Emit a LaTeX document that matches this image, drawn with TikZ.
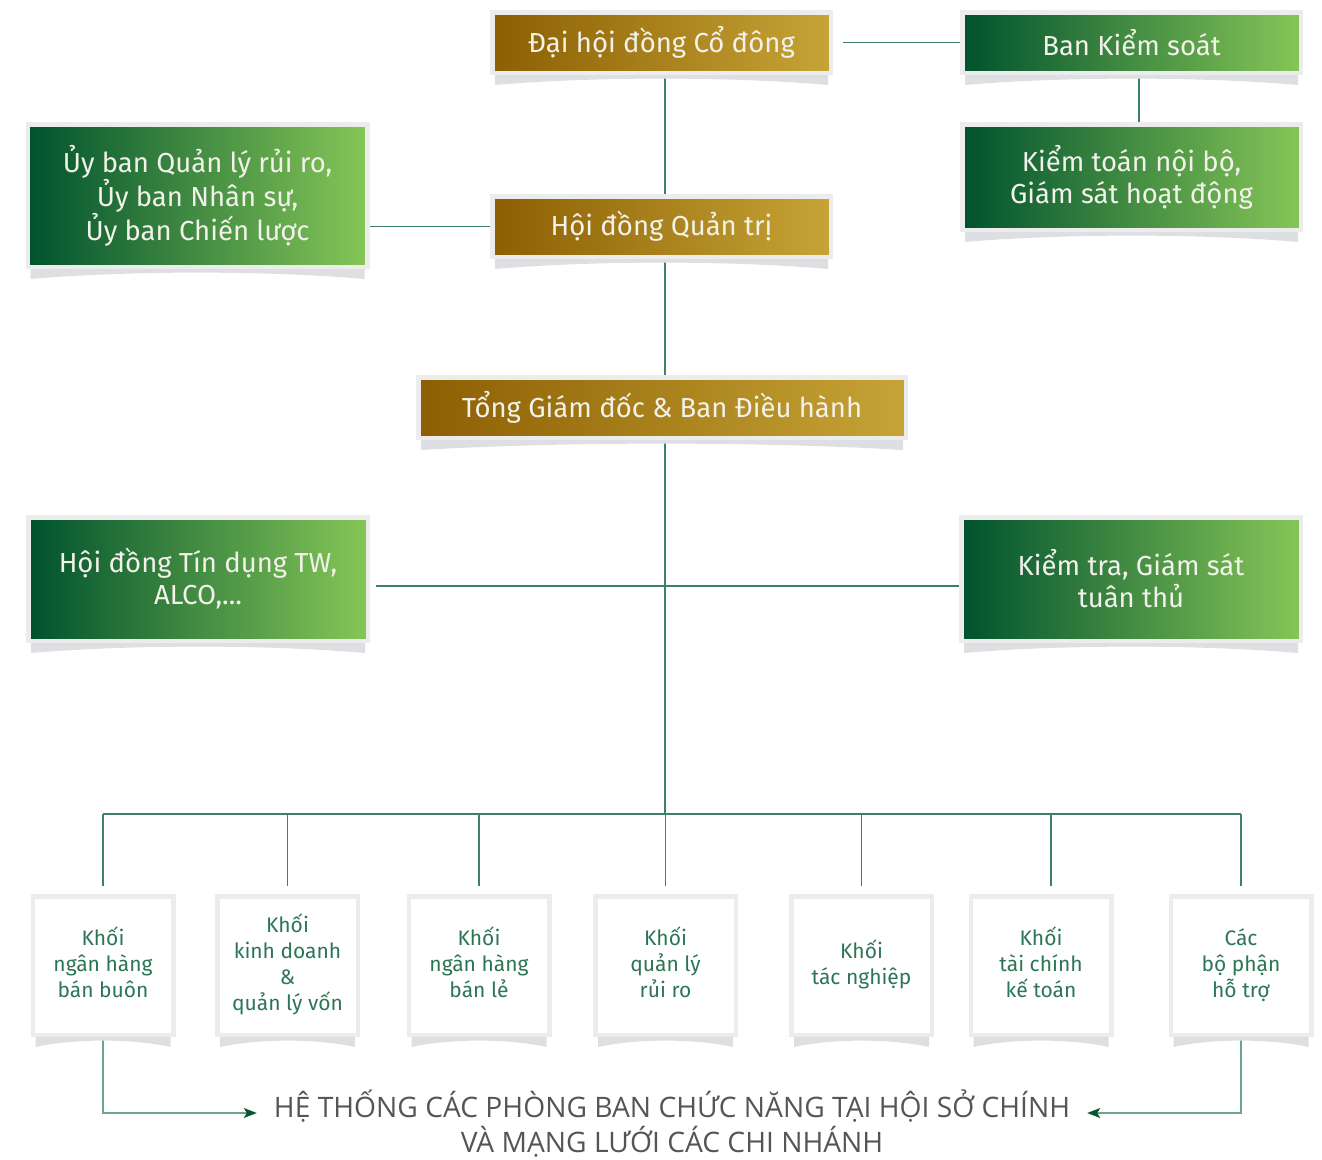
\documentclass[tikz,border=0pt]{standalone}
\usepackage{fontspec}
\setmainfont{Fira Sans}
\newfontfamily\capfont{Open Sans}
\usetikzlibrary{arrows.meta,calc}
\definecolor{framegray}{HTML}{ECECEC}
\definecolor{shadowgray}{HTML}{DDDFE2}
\definecolor{goldL}{HTML}{8C5F03}
\definecolor{goldM}{HTML}{A9811F}
\definecolor{goldR}{HTML}{C6A436}
\definecolor{greenL}{HTML}{00522E}
\definecolor{greenM}{HTML}{1B8646}
\definecolor{greenR}{HTML}{86C657}
\definecolor{linecol}{HTML}{3F8068}
\definecolor{arrowline}{HTML}{6FA58E}
\definecolor{arrowtip}{HTML}{0B5533}
\definecolor{boxtext}{HTML}{2B7656}
\definecolor{captext}{HTML}{555555}
\definecolor{lighttext}{HTML}{F2F1EA}
\newcommand\curlsh[1]{%
  \fill[shadowgray] ([xshift=5pt]#1.south west) -- ([xshift=5pt,yshift=-10pt]#1.south west)
    .. controls ($(#1.south west)!0.3!(#1.south east)+(0pt,-1.5pt)$) and ($(#1.south west)!0.7!(#1.south east)+(0pt,-1.5pt)$)
    .. ([xshift=-5pt,yshift=-10pt]#1.south east) -- ([xshift=-5pt]#1.south east) -- cycle;}
\newcommand\lastl{\strut\\[-28pt]\strut}
\begin{document}
\begin{tikzpicture}[x=1pt,y=-1pt,
  base/.style={draw=framegray,line width=4.5pt,inner sep=0pt,outer sep=2.25pt,align=center},
  goldbox/.style={base,left color=goldL,middle color=goldM,right color=goldR,text=lighttext,font=\fontsize{27.5}{32}\selectfont},
  greenbox/.style={base,left color=greenL,middle color=greenM,right color=greenR,text=lighttext,font=\fontsize{27.5}{32}\selectfont},
  whitebox/.style={base,fill=white,text=boxtext,font=\fontsize{21}{26}\selectfont,minimum width=140.5pt,minimum height=138.5pt},
  conn/.style={draw=linecol,line width=1.2pt},
  arr/.style={draw=arrowline,line width=1.4pt,-{Stealth[length=13pt,width=10pt,inset=3pt,color=arrowtip]}},
  captxt/.style={inner sep=0pt,text=captext,font=\capfont\fontsize{28.2}{32}\selectfont}
]
\useasboundingbox (0,0) rectangle (1322,1159);
% top level boxes
\node[goldbox,minimum width=338.5pt,minimum height=60.5pt] (dhcd) at (661.5,42.5) {Đại hội đồng Cổ đông};
\node[greenbox,minimum width=338.5pt,minimum height=60.5pt] (bks) at (1131.5,42.5) {Ban Kiểm soát};
\node[greenbox,minimum width=338.5pt,minimum height=105.5pt] (ktnb) at (1131.5,177) {Kiểm toán nội bộ,\\Giám sát hoạt động};
\node[greenbox,minimum width=339.5pt,minimum height=142.5pt] (uyban) at (197.5,195.5) {Ủy ban Quản lý rủi ro,\\Ủy ban Nhân sự,\\Ủy ban Chiến lược};
\node[goldbox,minimum width=338.5pt,minimum height=60.5pt] (hdqt) at (661.5,226.5) {Hội đồng Quản trị};
\node[goldbox,minimum width=487.5pt,minimum height=60.5pt] (tgd) at (662,407.5) {Tổng Giám đốc \& Ban Điều hành};
\node[greenbox,minimum width=339.5pt,minimum height=123.5pt] (hdtd) at (198,579) {Hội đồng Tín dụng TW,\\ALCO,...};
\node[greenbox,minimum width=339.5pt,minimum height=123.5pt] (ktgs) at (1131,579) {Kiểm tra, Giám sát\\tuân thủ};
% bottom boxes
\node[whitebox] (b1) at (103,965.5) {Khối\\ngân hàng\\bán buôn\lastl};
\node[whitebox] (b2) at (287.5,965.5) {Khối\\kinh doanh\\\&\\quản lý vốn\lastl};
\node[whitebox] (b3) at (479,965.5) {Khối\\ngân hàng\\bán lẻ\lastl};
\node[whitebox] (b4) at (665.5,965.5) {Khối\\quản lý\\rủi ro\lastl};
\node[whitebox] (b5) at (861.5,965.5) {Khối\\tác nghiệp\lastl};
\node[whitebox] (b6) at (1041,965.5) {Khối\\tài chính\\kế toán\lastl};
\node[whitebox] (b7) at (1241,965.5) {Các\\bộ phận\\hỗ trợ\lastl};
% caption
\node[captxt] (cap1) at (672,1106) {HỆ THỐNG CÁC PHÒNG BAN CHỨC NĂNG TẠI HỘI SỞ CHÍNH};
\node[captxt] (cap2) at (672,1142) {VÀ MẠNG LƯỚI CÁC CHI NHÁNH};
% coordinates
\coordinate (sx) at (665,0);
\coordinate (bus) at (665,814);
% connectors
\draw[conn] (dhcd.south -| sx) -- (hdqt.north -| sx);
\draw[conn] (hdqt.south -| sx) -- (tgd.north -| sx);
\draw[conn] (tgd.south -| sx) -- (bus);
\draw[conn] ([xshift=10pt]dhcd.east) -- (bks.west);
\draw[conn] ([xshift=7.5pt]bks.south) -- ([xshift=7.5pt]ktnb.north);
\draw[conn] (uyban.east |- hdqt.west) -- (hdqt.west);
\draw[conn] ([xshift=6pt,yshift=-7pt]hdtd.east) -- ([yshift=-7pt]ktgs.west);
\draw[conn] (bus -| b1.north) -- (bus -| b7.north);
\foreach \b in {b1,b2,b3,b4,b5,b7}{
  \draw[conn] (bus -| \b.north) -- ([yshift=8pt]\b.north);
}
\draw[conn] ([xshift=10pt]bus -| b6.north) -- ([xshift=10pt,yshift=8pt]b6.north);
\draw[arr] (b1.south) |- ([xshift=-17pt,yshift=-7pt]cap1.west);
\draw[arr] (b7.south) |- ([xshift=17pt,yshift=-7pt]cap1.east);
% curl shadows
\foreach \n in {dhcd,bks,ktnb,uyban,hdqt,tgd,hdtd,ktgs,b1,b2,b3,b4,b5,b6,b7}{
  \curlsh{\n}
}
\end{tikzpicture}
\end{document}
